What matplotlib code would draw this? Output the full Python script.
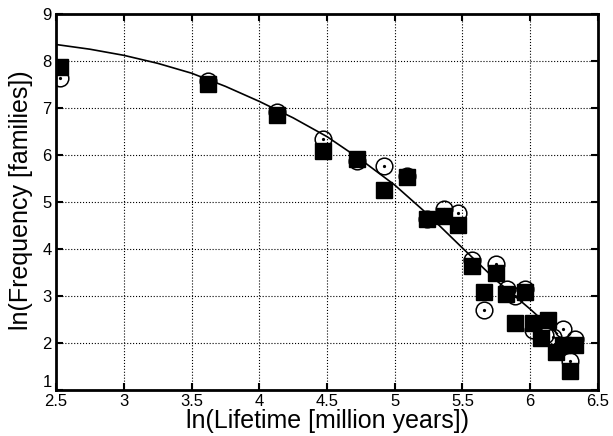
import matplotlib
matplotlib.use("Agg")
from matplotlib import pyplot as plt

# open circles
circ_x = [2.53, 3.62, 4.13, 4.47, 4.72, 4.92, 5.09, 5.24, 5.36, 5.47, 5.57, 5.66, 5.75,
          5.83, 5.89, 5.96, 6.02, 6.11, 6.17, 6.24, 6.29, 6.33]
circ_y = [7.63, 7.57, 6.91, 6.35, 5.88, 5.77, 5.55, 4.64, 4.84, 4.77, 3.76, 2.71, 3.69,
          3.14, 2.99, 3.15, 2.28, 2.17, 2.12, 2.29, 1.62, 2.09]

# filled squares
sq_x = [2.53, 3.62, 4.13, 4.47, 4.72, 4.92, 5.09, 5.24, 5.36, 5.47, 5.57, 5.66, 5.75,
        5.82, 5.89, 5.96, 6.02, 6.08, 6.13, 6.19, 6.24, 6.29, 6.33]
sq_y = [7.88, 7.50, 6.86, 6.09, 5.91, 5.26, 5.53, 4.63, 4.70, 4.50, 3.63, 3.09, 3.48,
        3.05, 2.42, 3.09, 2.42, 2.10, 2.49, 1.81, 1.96, 1.40, 1.96]

# fitted curve
fit_x = [2.5, 2.75, 3.0, 3.25, 3.5, 3.75, 4.0, 4.25, 4.5, 4.75, 5.0, 5.25, 5.5, 5.75, 6.0, 6.2]
fit_y = [8.35, 8.25, 8.12, 7.95, 7.74, 7.46, 7.14, 6.79, 6.39, 5.90, 5.36, 4.72, 4.02, 3.33, 2.72, 2.20]

xticks = [2.5, 3, 3.5, 4, 4.5, 5, 5.5, 6, 6.5]
xticklabels = ["2.5", "3", "3.5", "4", "4.5", "5", "5.5", "6", "6.5"]
yticks = [1, 2, 3, 4, 5, 6, 7, 8, 9]

plt.rcParams['font.family'] = ['Liberation Sans', 'DejaVu Sans']

fig = plt.figure(figsize=(6.13, 4.36), dpi=100)
ax = fig.add_axes([0.0914, 0.1055, 0.8841, 0.8625])

ax.plot(circ_x, circ_y, 'o', ms=12, mfc='none', mec='black', mew=1.1, zorder=3)
ax.plot(circ_x, circ_y, 'o', ms=1.3, color='black', zorder=3)
ax.plot(fit_x, fit_y, '-', color='black', lw=1.2, zorder=4)
ax.plot(sq_x, sq_y, 's', ms=11, color='black', zorder=5)

ax.set_xlim(2.5, 6.5)
ax.set_ylim(1, 9)
ax.set_xticks(xticks)
ax.set_xticklabels(xticklabels)
ax.set_yticks(yticks)
ax.grid(True, linestyle=':', color='black', lw=0.8)
ax.tick_params(direction='in', length=5, width=1.5, labelsize=12, top=True, right=True, pad=3)
for s in ax.spines.values():
    s.set_linewidth(2)
ax.get_yticklabels()[0].set_va('bottom')

ax.set_xlabel("ln(Lifetime [million years])", fontsize=18, labelpad=0)
ax.set_ylabel("ln(Frequency [families])", fontsize=18)
ax.yaxis.set_label_coords(-0.043, 0.505)

fig.savefig("out.png", dpi=100)
